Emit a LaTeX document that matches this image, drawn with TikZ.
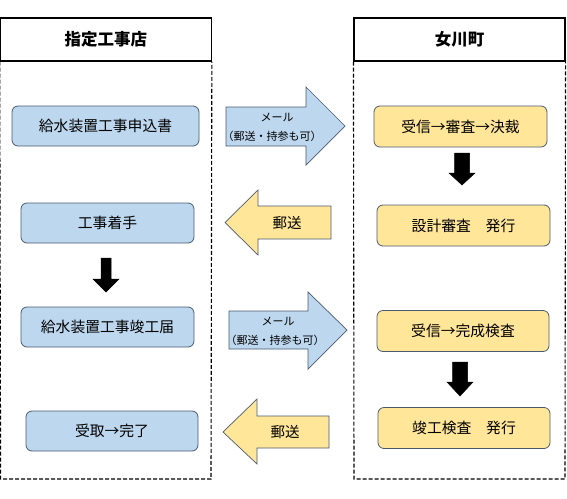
\documentclass[tikz,border=0pt]{standalone}
\usepackage{fontspec}
\setmainfont{Noto Sans CJK JP}
\definecolor{bfill}{HTML}{BDD7EE}
\definecolor{yfill}{HTML}{FFE699}
\definecolor{edge}{HTML}{4A5A70}
\begin{document}
\begin{tikzpicture}[x=1pt,y=-1pt,
  hdr/.style={draw=black,line width=1.1pt,minimum width=211pt,minimum height=43pt,inner sep=0pt,font=\fontsize{16.5}{18}\selectfont\bfseries},
  lane/.style={draw=black,line width=1.1pt,dash pattern=on 4pt off 2pt},
  bbox/.style={draw=edge,fill=bfill,rounded corners=6pt,line width=0.8pt,minimum height=40pt,inner sep=0pt,font=\fontsize{14.8}{17}\selectfont},
  ybox/.style={draw=edge,fill=yfill,rounded corners=6pt,line width=0.8pt,minimum height=41pt,inner sep=0pt,font=\fontsize{14.8}{17}\selectfont},
  barrow/.style={draw=edge,fill=bfill,line width=0.7pt},
  yarrow/.style={draw=edge,fill=yfill,line width=0.7pt},
  karrow/.style={fill=black,draw=black,line width=0.5pt},
  small/.style={inner sep=0pt,font=\fontsize{11}{12}\selectfont},
  mid/.style={inner sep=0pt,font=\fontsize{14.5}{16}\selectfont}]
\useasboundingbox (0,0) rectangle (567,498);
% headers and lanes
\node[hdr] (h1) at (105.8,39.5) {指定工事店};
\node[hdr] (h2) at (459.5,39.5) {女川町};
\draw[lane] (h1.south west) -- (0.6,479) -- (211,479) -- (h1.south east);
\draw[lane] (h2.south west) -- (354,479) -- (565,479) -- (h2.south east);
% left boxes
\node[bbox,minimum width=187pt] (a1) at (105.5,126) {給水装置工事申込書};
\node[bbox,minimum width=173pt] (a2) at (107.5,223) {工事着手};
\node[bbox,minimum width=173pt] (a3) at (107.5,327) {給水装置工事竣工届};
\node[bbox,minimum width=172pt] (a4) at (112,431) {受取→完了};
% right boxes
\node[ybox,minimum width=173pt] (b1) at (460.5,126.5) {受信→審査→決裁};
\node[ybox,minimum width=173pt] (b2) at (463.5,225.5) {設計審査　発行};
\node[ybox,minimum width=172pt] (b3) at (463,331) {受信→完成検査};
\node[ybox,minimum width=172pt] (b4) at (464,428) {竣工検査　発行};
% black down arrows
\draw[karrow] (101,258) -- (111,258) -- (111,279) -- (119,279) -- (106,292) -- (93,279) -- (101,279) -- cycle;
\draw[karrow] (454.5,153) -- (469.5,153) -- (469.5,173) -- (475,173) -- (462,185) -- (449,173) -- (454.5,173) -- cycle;
\draw[karrow] (452.5,362) -- (467.5,362) -- (467.5,382) -- (473,382) -- (460,396) -- (447,382) -- (452.5,382) -- cycle;
% blue right arrows
\draw[barrow] (226,107) -- (306,107) -- (306,87) -- (345,126) -- (306,165) -- (306,146) -- (226,146) -- cycle;
\node[small] (m1) at (277,117) {メール};
\node[small] (m2) at (272,136) {（郵送・持参も可）};
\draw[barrow] (229,311) -- (308,311) -- (308,292) -- (347,330) -- (308,369) -- (308,349) -- (229,349) -- cycle;
\node[small] (m3) at (278,321) {メール};
\node[small] (m4) at (275,340) {（郵送・持参も可）};
% yellow left arrows
\draw[yarrow] (331,206) -- (258,206) -- (258,190) -- (225,222.5) -- (258,255) -- (258,239) -- (331,239) -- cycle;
\node[mid] (p1) at (287,222.5) {郵送};
\draw[yarrow] (329,416) -- (257,416) -- (257,399) -- (223,432) -- (257,464) -- (257,448) -- (329,448) -- cycle;
\node[mid] (p2) at (285,432) {郵送};
\end{tikzpicture}
\end{document}
